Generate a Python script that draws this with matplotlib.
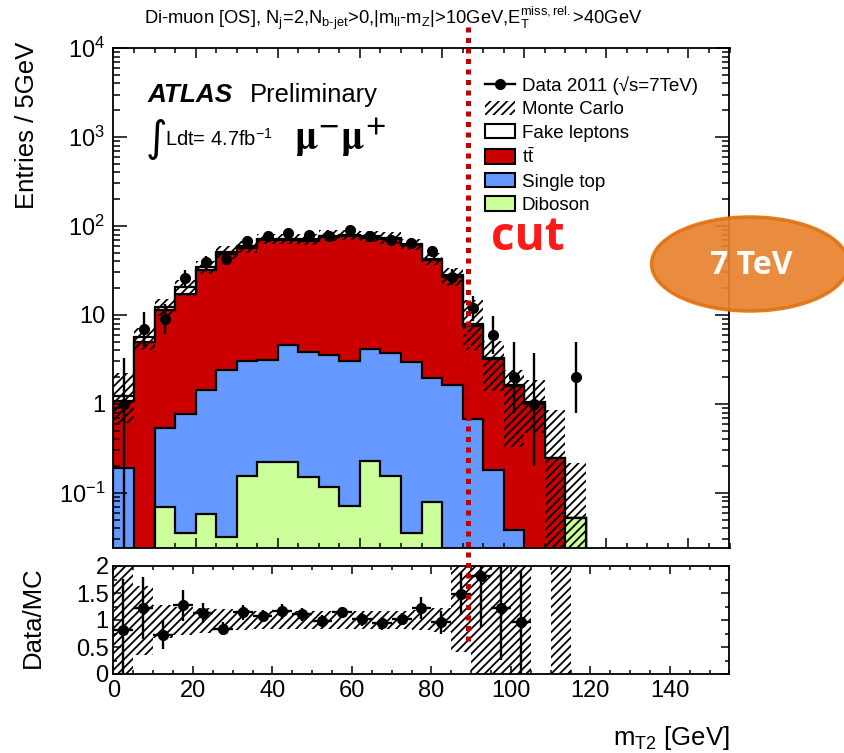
import numpy as np
import matplotlib.pyplot as plt
from matplotlib.patches import Ellipse, Patch
from matplotlib.lines import Line2D
from matplotlib.ticker import FixedLocator, MultipleLocator, LogLocator, NullFormatter

plt.rcParams['font.family'] = ['Liberation Sans', 'DejaVu Sans']
plt.rcParams['mathtext.fontset'] = 'custom'
plt.rcParams['mathtext.rm'] = 'Liberation Sans'
plt.rcParams['mathtext.it'] = 'Liberation Sans:italic'
plt.rcParams['mathtext.bf'] = 'Liberation Sans:bold'
plt.rcParams['hatch.linewidth'] = 1.3

# bins of 5 GeV, 0..115
edges = np.arange(0, 120, 5)
centers = edges[:-1] + 2.5

# stack components (entries / 5 GeV)
diboson = [0, 0, 0.069, 0.035, 0.058, 0.032, 0.153, 0.22, 0.22, 0.149, 0.115, 0.071,
           0.23, 0.155, 0.035, 0.078, 0, 0, 0, 0, 0, 0, 0.052]
single_top = [0.19, 0, 0.46, 0.73, 1.36, 2.40, 2.91, 2.93, 4.42, 3.65, 3.44, 2.94,
              3.92, 3.59, 2.91, 1.88, 1.62, 0.67, 0.18, 0.038, 0, 0, 0]
ttbar = [0.88, 4.93, 10.97, 16.6, 30.6, 45.6, 52.9, 65.9, 64.4, 64.2, 71.5, 74.0,
         69.9, 67.3, 58.1, 39.0, 25.4, 6.9, 3.0, 1.56, 1.0, 0.246, 0]
fakes = [0.15, 0.77, 0.8, 3.1, 2.5, 3.0, 3.0, 3.0, 3.0, 3.0, 3.0, 3.0,
         3.0, 3.0, 2.0, 1.6, 1.0, 0.4, 0.1, 0.03, 0.04, 0, 0]

# MC uncertainty band (main panel)
mc_lo = [0.61, 4.0, 9.7, 16.3, 29, 43, 50, 62, 62, 61, 67, 69,
         66, 63, 54, 36, 21, 4.0, 1.38, 0.33, 0.47, 0.01, 0.01]
mc_hi = [2.22, 7.1, 15.2, 25, 40, 59, 68, 82, 82, 81, 89, 91,
         88, 85, 72, 50, 34, 14.9, 5.1, 2.43, 1.87, 0.86, 0.216]

# data 2011
data = [1, 7, 9, 26, 39, 43, 67, 78, 83, 79, 78, 91, 78, 70, 64, 52, 27, 12, 6, 2, 1, 0, 2]
data_elo = [0.999, 2.6, 2.9, 5.1, 6.2, 6.5, 8.2, 8.8, 9.1, 8.9, 8.8, 9.5,
            8.8, 8.4, 8.0, 7.2, 5.2, 3.4, 2.4, 1.2, 0.8, 0, 1.2]
data_ehi = [2.3, 3.8, 4.1, 6.1, 7.3, 7.6, 9.2, 9.9, 10.1, 9.9, 9.9, 10.6,
            9.9, 9.4, 9.0, 8.2, 6.2, 4.5, 3.6, 3.0, 2.7, 0, 3.0]

# ratio panel
ratio = [0.82, 1.22, 0.73, 1.27, 1.13, 0.84, 1.14, 1.08, 1.16, 1.11, 0.99, 1.14,
         1.01, 0.94, 1.02, 1.22, 0.96, 1.49, 1.82, 1.23, 0.96, np.nan, np.nan]
ratio_err = [0.94, 0.57, 0.27, 0.28, 0.18, 0.12, 0.14, 0.11, 0.14, 0.12, 0.10, 0.11,
             0.12, 0.12, 0.11, 0.20, 0.21, 0.40, 0.95, 0.97, 0.96, np.nan, np.nan]
r_lo = [0, 0.35, 0.66, 0.72, 0.76, 0.80, 0.82, 0.83, 0.83, 0.83, 0.84, 0.84,
        0.84, 0.84, 0.83, 0.82, 0.78, 0.41, 0, 0, 0, np.nan, 0]
r_hi = [2, 1.63, 1.27, 1.25, 1.22, 1.20, 1.18, 1.17, 1.17, 1.17, 1.16, 1.16,
        1.16, 1.16, 1.17, 1.18, 1.22, 2, 2, 2, 2, np.nan, 2]

c_red, c_blue, c_green = '#cc0000', '#6699ff', '#ccff99'

fig = plt.figure(figsize=(8.45, 7.53), dpi=100)
W, H = 845, 753
ax = fig.add_axes([113.5 / W, 1 - 548 / H, 616 / W, 500 / H])
ax2 = fig.add_axes([113.5 / W, 1 - 674 / H, 616 / W, 108 / H])

# stacked histogram, drawn from the top layer down
layers = [diboson, single_top, ttbar, fakes]
cum = np.cumsum(np.array(layers, dtype=float), axis=0)
colors = [c_green, c_blue, c_red, 'white']
for i in range(3, -1, -1):
    top = np.where(cum[i] > 0, cum[i], 1e-3)
    ax.stairs(top, edges, baseline=1e-3, fill=True, facecolor=colors[i],
              edgecolor='black', linewidth=1.6)

lo = np.array(mc_lo)
hi = np.array(mc_hi)
ax.bar(centers, hi - lo, bottom=lo, width=5, facecolor='none', edgecolor='black',
       hatch='////', linewidth=0)

d = np.array(data, dtype=float)
m = d > 0
ax.errorbar(centers[m], d[m], yerr=[np.array(data_elo)[m], np.array(data_ehi)[m]],
            fmt='o', color='black', ms=7, elinewidth=1.7, capsize=0)

ax.set_yscale('log')
ax.set_xlim(0, 150)
ax.set_ylim(0.024, 1.0e4)
ax.yaxis.set_major_locator(FixedLocator([0.1, 1, 10, 100, 1000, 10000]))
ax.set_yticklabels(['$10^{-1}$', '1', '10', '$10^{2}$', '$10^{3}$', '$10^{4}$'])
ax.yaxis.set_minor_locator(LogLocator(base=10, subs=np.arange(2, 10)))
ax.yaxis.set_minor_formatter(NullFormatter())
ax.xaxis.set_major_locator(MultipleLocator(20))
ax.xaxis.set_minor_locator(MultipleLocator(5))
ax.tick_params(axis='x', which='both', labelbottom=False)
ax.tick_params(which='both', direction='in', top=True, right=True, width=1.1)
ax.tick_params(axis='y', which='major', length=10, labelsize=17, pad=6)
ax.tick_params(axis='y', which='minor', length=5)
ax.tick_params(axis='x', which='major', length=7)
ax.tick_params(axis='x', which='minor', length=3.5)

# ratio panel
rlo = np.array(r_lo)
rhi = np.array(r_hi)
ax2.bar(centers, rhi - rlo, bottom=rlo, width=5, facecolor='none', edgecolor='black',
        hatch='////', linewidth=0)
ax2.errorbar(centers, ratio, yerr=ratio_err, xerr=2.5, fmt='o', color='black',
             ms=7, elinewidth=1.7, capsize=0)
ax2.set_xlim(0, 155)
ax2.set_ylim(0, 2)
ax2.yaxis.set_major_locator(FixedLocator([0, 0.5, 1, 1.5, 2]))
ax2.set_yticklabels(['0', '0.5', '1', '1.5', '2'])
ax2.yaxis.set_minor_locator(MultipleLocator(0.25))
ax2.xaxis.set_major_locator(MultipleLocator(20))
ax2.xaxis.set_minor_locator(MultipleLocator(5))
ax2.tick_params(which='both', direction='in', top=True, right=True, width=1.1, labelsize=17)
ax2.tick_params(which='major', length=6)
ax2.tick_params(which='minor', length=3)
ax2.tick_params(axis='x', pad=4)

for a in (ax, ax2):
    for s in a.spines.values():
        s.set_linewidth(1.3)

# axis titles
fig.text(27 / W, 1 - 42 / H, 'Entries / 5GeV', rotation=90, ha='center', va='top', fontsize=18.5)
fig.text(33 / W, 1 - 566 / H, 'Data/MC', rotation=90, ha='center', va='top', fontsize=18.5)
fig.text(730 / W, 1 - 738 / H, 'm$_{\\mathrm{T2}}$ [GeV]', ha='right', va='center', fontsize=18.5)

# top caption
fig.text(393 / W, 1 - 18 / H,
         r'Di-muon [OS], N$_{\mathrm{j}}$=2,N$_{\mathrm{b\text{-}jet}}$>0,|m$_{\mathrm{ll}}$-m$_{\mathrm{Z}}$|>10GeV,'
         r'E$_{\mathrm{T}}^{\mathrm{miss,rel.}}$>40GeV',
         ha='center', va='center', fontsize=13.2)

# ATLAS labels
fig.text(148 / W, 1 - 95 / H, 'ATLAS', fontsize=18.8, fontweight='bold', fontstyle='italic',
         ha='left', va='center')
fig.text(250 / W, 1 - 95 / H, 'Preliminary', fontsize=18.4, ha='left', va='center')
fig.text(146 / W, 1 - 139 / H, '∫', fontsize=30, family='DejaVu Sans', ha='left', va='center')
fig.text(165 / W, 1 - 139 / H, 'Ldt= 4.7fb$^{\\mathrm{-1}}$', fontsize=14.5, ha='left', va='center')
fig.text(340 / W, 1 - 138 / H, r'$\mathbf{\mu^{-}\mu^{+}}$', fontsize=28, ha='center', va='center',
         math_fontfamily='stix')

# legend
handles = [
    Line2D([], [], color='black', marker='o', ms=7, lw=1.7),
    Patch(facecolor='none', edgecolor='black', hatch='////', linewidth=0),
    Patch(facecolor='white', edgecolor='black', linewidth=1.5),
    Patch(facecolor=c_red, edgecolor='black', linewidth=1.5),
    Patch(facecolor=c_blue, edgecolor='black', linewidth=1.5),
    Patch(facecolor=c_green, edgecolor='black', linewidth=1.5),
]
labels = ['Data 2011 (√s=7TeV)', 'Monte Carlo', 'Fake leptons', r'$\mathrm{t\bar{t}}$',
          'Single top', 'Diboson']
fig.legend(handles, labels, loc='upper left', bbox_to_anchor=(485 / W, 1 - 76 / H),
           frameon=False, fontsize=13.5, handlelength=1.6, handleheight=0.8,
           handletextpad=0.35, labelspacing=0.31, borderpad=0, borderaxespad=0)

# slide annotations: cut line, "cut" label, 7 TeV badge
fig.add_artist(Line2D([468 / W, 468 / W], [1 - 27 / H, 1 - 645 / H], transform=fig.transFigure,
                      color='#c00000', lw=3.6, linestyle=(0, (1, 1.1)), solid_capstyle='butt'))
fig.text(528 / W, 1 - 238 / H, 'cut', color='#ff1a1a', fontsize=33, fontweight='bold',
         family='Open Sans', ha='center', va='center')
ell = Ellipse((750 / W, 1 - 264 / H), 197 / W, 94 / H, transform=fig.transFigure,
              facecolor='#e8822e', edgecolor='#e0720f', lw=2.5, alpha=0.92)
fig.add_artist(ell)
fig.text(751 / W, 1 - 265 / H, '7 TeV', color='white', fontsize=23, fontweight='bold',
         family='Open Sans', ha='center', va='center')

fig.savefig('out.png', dpi=100)
